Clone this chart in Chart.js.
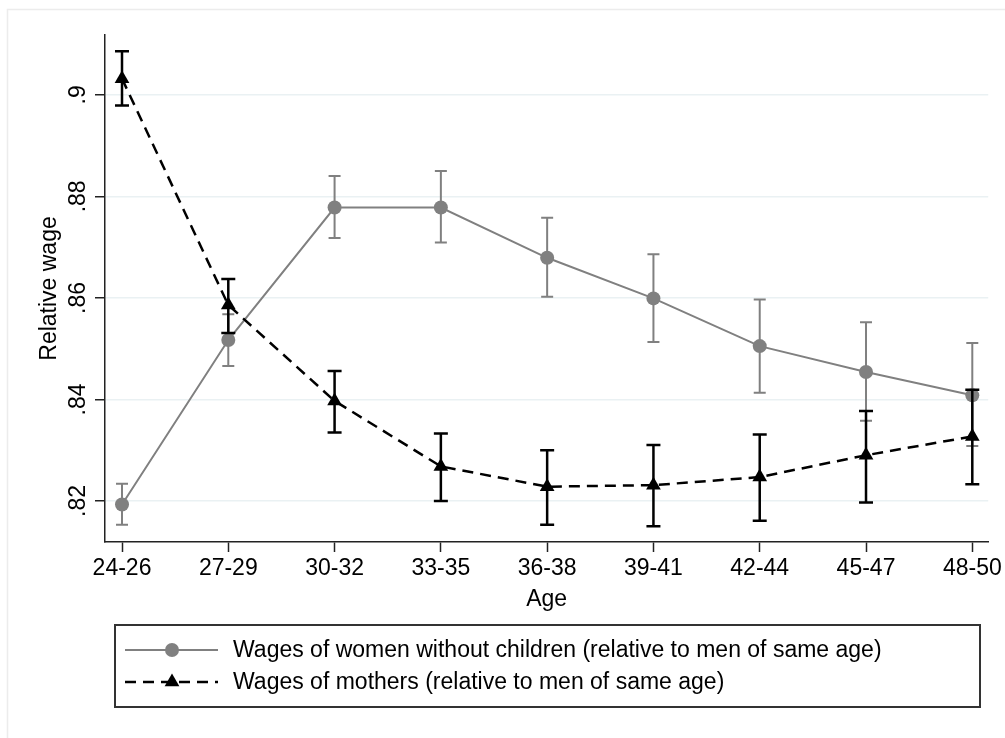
<!DOCTYPE html>
<html>
<head>
<meta charset="utf-8">
<title>Relative wage by age</title>
<script src="https://cdn.jsdelivr.net/npm/chart.js@4.4.1/dist/chart.umd.min.js"></script>
<style>
  html, body { margin: 0; padding: 0; background: #fff; }
  #wrap { width: 1005px; height: 738px; position: relative; }
</style>
</head>
<body>
<div id="wrap"><canvas id="wageChart" width="1005" height="738"></canvas></div>
<script>
// age groups on the x axis
var categories = ['24-26', '27-29', '30-32', '33-35', '36-38', '39-41', '42-44', '45-47', '48-50'];

// y axis ticks
var yTicks = [0.82, 0.84, 0.86, 0.88, 0.90];
var yTickLabels = ['.82', '.84', '.86', '.88', '.9'];

// women without children (relative to men of same age)
var childlessWage = [0.8193, 0.8517, 0.8778, 0.8778, 0.8679, 0.8599, 0.8505, 0.8454, 0.8408];
var childlessLow  = [0.8153, 0.8466, 0.8718, 0.8709, 0.8602, 0.8513, 0.8413, 0.8358, 0.8308];
var childlessHigh = [0.8234, 0.8568, 0.8840, 0.8850, 0.8758, 0.8686, 0.8597, 0.8552, 0.8511];

// mothers (relative to men of same age)
var motherWage = [0.9032, 0.8586, 0.8397, 0.8268, 0.8228, 0.8231, 0.8247, 0.8290, 0.8327];
var motherLow  = [0.8979, 0.8531, 0.8335, 0.8200, 0.8153, 0.8150, 0.8161, 0.8197, 0.8233];
var motherHigh = [0.9086, 0.8637, 0.8456, 0.8333, 0.8300, 0.8310, 0.8331, 0.8377, 0.8419];

var FONT = '"Liberation Sans", Arial, Helvetica, sans-serif';
var FSIZE = 23;
var GREY = '#808080';

function toPoints(vals) {
  return vals.map(function(v, i) { return { x: i, y: v }; });
}

// error bars drawn right before their own series, so markers sit on top
var errorBars = {
  id: 'errorBars',
  beforeDatasetDraw: function(chart, args) {
    var ds = chart.data.datasets[args.index];
    if (!ds.errLow) return;
    var ctx = chart.ctx, xs = chart.scales.x, ys = chart.scales.y;
    ctx.save();
    ctx.strokeStyle = ds.errColor;
    ctx.lineWidth = ds.errWidth;
    ctx.setLineDash([]);
    for (var i = 0; i < ds.errLow.length; i++) {
      var px = xs.getPixelForValue(i);
      var lo = ys.getPixelForValue(ds.errLow[i]);
      var hi = ys.getPixelForValue(ds.errHigh[i]);
      var c = ds.capHalf;
      ctx.beginPath();
      ctx.moveTo(px, lo); ctx.lineTo(px, hi);
      ctx.moveTo(px - c, lo); ctx.lineTo(px + c, lo);
      ctx.moveTo(px - c, hi); ctx.lineTo(px + c, hi);
      ctx.stroke();
    }
    ctx.restore();
  }
};

// frame, rotated y tick labels and the boxed legend
var decorations = {
  id: 'decorations',
  beforeDraw: function(chart) {
    var ctx = chart.ctx;
    ctx.save();
    ctx.fillStyle = '#fff';
    ctx.fillRect(0, 0, chart.width, chart.height);
    ctx.strokeStyle = '#ececec';
    ctx.lineWidth = 1.5;
    ctx.strokeRect(7.5, 9.5, chart.width + 20, chart.height + 20);
    ctx.restore();
  },
  afterDraw: function(chart) {
    var ctx = chart.ctx, ys = chart.scales.y;
    ctx.save();
    ctx.fillStyle = '#000';
    ctx.font = FSIZE + 'px ' + FONT;
    ctx.textAlign = 'center';
    ctx.textBaseline = 'alphabetic';
    ys.ticks.forEach(function(t, i) {
      var py = ys.getPixelForValue(t.value);
      ctx.save();
      ctx.translate(ys.right - 20, py);
      ctx.rotate(-Math.PI / 2);
      ctx.fillText(yTickLabels[i], 0, 0);
      ctx.restore();
    });

    // legend
    var box = { x: 115, y: 625, w: 865, h: 82 };
    ctx.strokeStyle = '#333';
    ctx.lineWidth = 2;
    ctx.strokeRect(box.x, box.y, box.w, box.h);
    var rows = [650, 682];
    chart.data.datasets.forEach(function(ds, k) {
      var y = rows[k];
      ctx.strokeStyle = ds.borderColor;
      ctx.lineWidth = ds.borderWidth;
      ctx.setLineDash(ds.borderDash || []);
      ctx.beginPath();
      ctx.moveTo(125, y); ctx.lineTo(218, y);
      ctx.stroke();
      ctx.setLineDash([]);
      ctx.fillStyle = ds.pointBackgroundColor;
      var mx = 172, r = ds.pointRadius;
      ctx.beginPath();
      if (ds.pointStyle === 'triangle') {
        ctx.moveTo(mx, y - r);
        ctx.lineTo(mx + r * Math.sin(2 * Math.PI / 3), y - r * Math.cos(2 * Math.PI / 3));
        ctx.lineTo(mx + r * Math.sin(4 * Math.PI / 3), y - r * Math.cos(4 * Math.PI / 3));
        ctx.closePath();
      } else {
        ctx.arc(mx, y, r, 0, Math.PI * 2);
      }
      ctx.fill();
      ctx.fillStyle = '#000';
      ctx.font = FSIZE + 'px ' + FONT;
      ctx.textAlign = 'left';
      ctx.textBaseline = 'middle';
      ctx.fillText(ds.label, 233, y + 1);
    });
    ctx.restore();
  }
};

new Chart(document.getElementById('wageChart').getContext('2d'), {
  type: 'line',
  data: {
    datasets: [{
      label: 'Wages of women without children (relative to men of same age)',
      data: toPoints(childlessWage),
      borderColor: GREY,
      borderWidth: 2,
      pointStyle: 'circle',
      pointRadius: 7,
      pointBackgroundColor: GREY,
      pointBorderColor: GREY,
      pointBorderWidth: 0,
      errLow: childlessLow,
      errHigh: childlessHigh,
      errColor: GREY,
      errWidth: 2,
      capHalf: 6,
      order: 1
    }, {
      label: 'Wages of mothers (relative to men of same age)',
      data: toPoints(motherWage),
      borderColor: '#000',
      borderWidth: 2.5,
      borderDash: [11, 7],
      pointStyle: 'triangle',
      pointRadius: 8.5,
      pointBackgroundColor: '#000',
      pointBorderColor: '#000',
      pointBorderWidth: 0,
      errLow: motherLow,
      errHigh: motherHigh,
      errColor: '#000',
      errWidth: 2.5,
      capHalf: 7,
      order: 0
    }]
  },
  options: {
    responsive: false,
    animation: false,
    events: [],
    layout: { padding: { top: 35, right: 16, bottom: 124, left: 0 } },
    plugins: {
      legend: { display: false },
      tooltip: { enabled: false }
    },
    scales: {
      x: {
        type: 'linear',
        min: -0.16,
        max: 8.15,
        afterBuildTicks: function(scale) {
          scale.ticks = categories.map(function(c, i) { return { value: i }; });
        },
        afterFit: function(scale) { scale.height = 72; },
        ticks: {
          color: '#000',
          font: { family: FONT, size: FSIZE },
          padding: 3,
          maxRotation: 0,
          autoSkip: false,
          callback: function(v) { return categories[v]; }
        },
        grid: { display: true, drawOnChartArea: false, drawTicks: true, tickLength: 10, tickColor: '#222', tickWidth: 1.5 },
        border: { display: true, color: '#222', width: 1.5 },
        title: { display: true, text: 'Age', color: '#000', font: { family: FONT, size: FSIZE }, padding: { top: 0, bottom: 1 } }
      },
      y: {
        type: 'linear',
        min: 0.8119,
        max: 0.9118,
        afterBuildTicks: function(scale) {
          scale.ticks = yTicks.map(function(v) { return { value: v }; });
        },
        afterFit: function(scale) { scale.width = 105; },
        ticks: { display: false },
        grid: { display: true, drawOnChartArea: true, color: '#eaf1f3', lineWidth: 1.5, drawTicks: true, tickLength: 10, tickColor: '#222', tickWidth: 1.5 },
        border: { display: true, color: '#222', width: 1.5 },
        title: { display: true, text: 'Relative wage', color: '#000', font: { family: FONT, size: FSIZE }, padding: { top: 36, bottom: 0 } }
      }
    }
  },
  plugins: [errorBars, decorations]
});
</script>
</body>
</html>
